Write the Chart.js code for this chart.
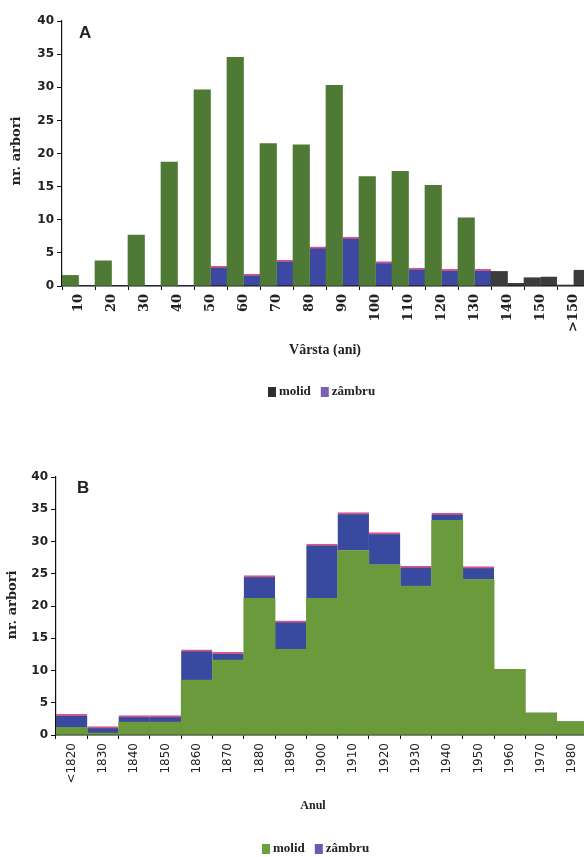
<!DOCTYPE html>
<html>
<head>
<meta charset="utf-8">
<script src="https://cdn.jsdelivr.net/npm/chart.js@4/dist/chart.umd.min.js"></script>
<style>
  html, body { margin: 0; padding: 0; background: #ffffff; }
  body { width: 584px; height: 857px; overflow: hidden; position: relative; }
  canvas { position: absolute; left: 0; }
  #chartA { top: 0; }
  #chartB { top: 440px; }
</style>
</head>
<body>
<canvas id="chartA" width="600" height="420"></canvas>
<canvas id="chartB" width="600" height="417"></canvas>
<script>
// Panel A: number of trees by age class
const ageClasses = ['10','20','30','40','50','60','70','80','90','100','110','120','130','140','150','>150'];
const molidByAge = [1.6, 3.8, 7.7, 18.7, 29.6, 34.5, 21.5, 21.3, 30.3, 16.5, 17.3, 15.2, 10.3, 2.2, 1.25, 0.15];
const zambruByAge = [0, 0, 0, 0, 3.0, 1.8, 3.9, 5.9, 7.4, 3.7, 2.7, 2.5, 2.5, 0.4, 1.4, 2.4];

// Panel B: number of trees by decade
const decades = ['<1820','1830','1840','1850','1860','1870','1880','1890','1900','1910','1920','1930','1940','1950','1960','1970','1980'];
const molidByYear = [1.2, 0.3, 2.0, 2.0, 8.5, 11.6, 21.2, 13.3, 21.2, 28.6, 26.4, 23.1, 33.3, 24.1, 10.2, 3.4, 2.1];
const zambruByYear = [2.0, 1.0, 1.0, 1.0, 4.7, 1.2, 3.5, 4.4, 8.4, 5.9, 5.0, 3.1, 1.1, 2.0, 0, 0, 0];

const yTicks = { min: 0, max: 40, step: 5 };

const SERIF = '"Liberation Serif", "DejaVu Serif", serif';
const WSERIF = '"DejaVu Serif", "Liberation Serif", serif';
const SANS = '"Liberation Sans", Arial, sans-serif';
const WSANS = '"DejaVu Sans", "Liberation Sans", sans-serif';

// last three age classes print in dark grey
const darkFrom = 13;
function shade(base, dark) {
  return ctx => (ctx.dataIndex >= darkFrom ? dark : base);
}
const pinkTop = ctx => {
  const v = ctx.raw;
  return v > 0 ? { top: 2, left: 0, right: 0, bottom: 0 } : 0;
};

// texts around the plot: panel letter, axis titles, legend
function decorations(cfg) {
  return {
    id: 'decor',
    afterDraw(chart) {
      const c = chart.ctx;
      c.save();
      c.fillStyle = '#222';
      // panel letter
      c.font = 'bold 17px ' + SANS;
      c.textAlign = 'left';
      c.textBaseline = 'middle';
      c.fillText(cfg.letter, cfg.letterX, cfg.letterY);
      // y title
      c.save();
      c.translate(cfg.yTitleX, cfg.yTitleY);
      c.rotate(-Math.PI / 2);
      c.textAlign = 'center';
      c.font = cfg.yTitleFont;
      c.fillText('nr. arbori', 0, 0);
      c.restore();
      // x title
      c.textAlign = 'center';
      c.font = cfg.xTitleFont;
      c.fillText(cfg.xTitle, cfg.xTitleX, cfg.xTitleY);
      // legend
      c.textAlign = 'left';
      c.font = 'bold 13px ' + SERIF;
      let x = cfg.legendX;
      cfg.legend.forEach(item => {
        c.fillStyle = item.color;
        c.fillRect(x, cfg.legendY - 5, 8, 10);
        c.fillStyle = '#222';
        c.fillText(item.text, x + 11, cfg.legendY);
        x += 11 + c.measureText(item.text).width + 10;
      });
      c.restore();
    }
  };
}

function yScale(width) {
  return {
    min: yTicks.min,
    max: yTicks.max,
    afterFit(scale) { scale.width = width; },
    ticks: { stepSize: yTicks.step, color: '#222', padding: 3, font: { family: WSANS, size: 12, weight: 'bold' } },
    grid: { drawOnChartArea: false, tickLength: 5, color: '#111', tickColor: '#111' },
    border: { color: '#111', width: 1.2 }
  };
}

function xScale(height, font) {
  return {
    afterFit(scale) { scale.height = height; },
    ticks: { autoSkip: false, minRotation: 90, maxRotation: 90, color: '#222', padding: 4, font: font },
    grid: { offset: true, drawOnChartArea: false, tickLength: 4, color: '#111', tickColor: '#111' },
    border: { color: '#111', width: 1.5 }
  };
}

new Chart(document.getElementById('chartA'), {
  type: 'bar',
  data: {
    labels: ageClasses,
    datasets: [
      {
        label: 'molid',
        data: molidByAge,
        backgroundColor: shade('#4f7a36', '#3c3c3c'),
        borderWidth: 0
      },
      {
        label: 'zâmbru',
        data: zambruByAge,
        backgroundColor: shade('#3c48a2', '#3c3c3c'),
        borderColor: shade('#cf5a86', '#3c3c3c'),
        borderWidth: pinkTop,
        borderSkipped: false
      }
    ]
  },
  options: {
    responsive: false,
    animation: false,
    categoryPercentage: 1,
    barPercentage: 1,
    layout: { padding: { top: 21, left: 0, right: 10, bottom: 0 } },
    plugins: { legend: { display: false }, tooltip: { enabled: false } },
    scales: {
      x: xScale(420 - 286, { family: WSERIF, size: 13, weight: 'bold' }),
      y: yScale(62)
    }
  },
  plugins: [decorations({
    letter: 'A', letterX: 79, letterY: 33,
    yTitleX: 17, yTitleY: 151, yTitleFont: 'bold 13px ' + WSERIF,
    xTitle: 'Vârsta (ani)', xTitleX: 325, xTitleY: 350, xTitleFont: 'bold 14px ' + SERIF,
    legendX: 268, legendY: 392,
    legend: [{ text: 'molid', color: '#2e2e2e' }, { text: 'zâmbru', color: '#7a60b2' }]
  })]
});

new Chart(document.getElementById('chartB'), {
  type: 'bar',
  data: {
    labels: decades,
    datasets: [
      {
        label: 'molid',
        data: molidByYear,
        backgroundColor: '#6a9a3b',
        borderWidth: 0
      },
      {
        label: 'zâmbru',
        data: zambruByYear,
        backgroundColor: '#3a49a0',
        borderColor: '#cf5a86',
        borderWidth: pinkTop,
        borderSkipped: false
      }
    ]
  },
  options: {
    responsive: false,
    animation: false,
    categoryPercentage: 1,
    barPercentage: 1,
    layout: { padding: { top: 37, left: 0, right: 12, bottom: 0 } },
    plugins: { legend: { display: false }, tooltip: { enabled: false } },
    scales: {
      x: Object.assign(xScale(417 - 295, { family: WSANS, size: 12 }), { stacked: true }),
      y: Object.assign(yScale(56), { stacked: true })
    }
  },
  plugins: [decorations({
    letter: 'B', letterX: 77, letterY: 48,
    yTitleX: 13, yTitleY: 165, yTitleFont: 'bold 13px ' + WSERIF,
    xTitle: 'Anul', xTitleX: 313, xTitleY: 366, xTitleFont: 'bold 12px ' + SERIF,
    legendX: 262, legendY: 409,
    legend: [{ text: 'molid', color: '#6aa040' }, { text: 'zâmbru', color: '#6a5ab5' }]
  })]
});
</script>
</body>
</html>
